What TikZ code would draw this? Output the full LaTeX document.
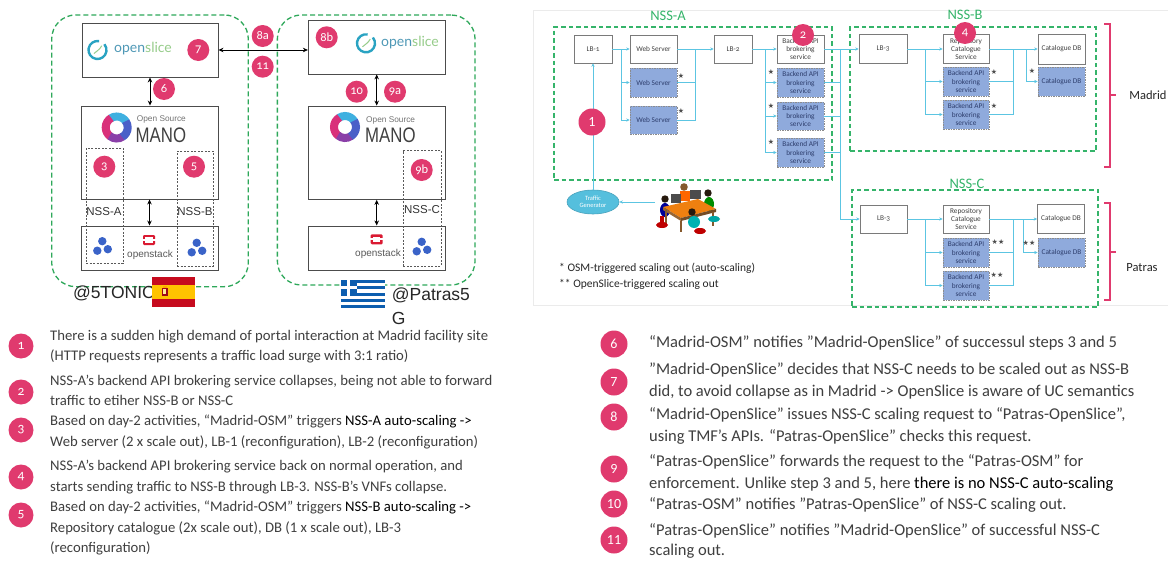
\documentclass[tikz,border=0pt]{standalone}
\usepackage{fontspec}
\setmainfont{Carlito}
\newfontfamily\oldnum{Carlito}[Numbers=OldStyle]
\newfontfamily\arialf{Liberation Sans}
\newfontfamily\symf{DejaVu Sans}
\newfontfamily\latof{Lato}
\usetikzlibrary{arrows.meta,shapes.geometric}

\definecolor{nssgreen}{HTML}{35B46A}
\definecolor{sitegreen}{HTML}{2EA85A}
\definecolor{linkc}{HTML}{5CC5E2}
\definecolor{vnf}{HTML}{8FAADC}
\definecolor{vnftext}{HTML}{2D3D6C}
\definecolor{badgec}{HTML}{E03A6E}
\definecolor{boxline}{HTML}{7A7A7A}
\definecolor{bodytext}{HTML}{3F3F3F}
\definecolor{osred}{HTML}{DA1A32}
\definecolor{dotblue}{HTML}{3A63C8}
\definecolor{slicering}{HTML}{2AA3C2}
\definecolor{slicetext}{HTML}{4E98B6}
\definecolor{slicegreen}{HTML}{96CC8A}
\definecolor{esred}{HTML}{C60B1E}
\definecolor{esyellow}{HTML}{FFC400}
\definecolor{grblue}{HTML}{0D5EAF}
\definecolor{tgfill}{HTML}{55BFDD}
\definecolor{osmcyan}{HTML}{3FB0E0}
\definecolor{osmmag}{HTML}{D9307A}
\definecolor{osmpur}{HTML}{8A3FA8}
\definecolor{osmblue}{HTML}{4A5FC8}

% Open Source MANO ring logo
\newcommand\drawosm[1]{\begin{scope}[shift={#1},yscale=-1]
  \draw[line width=8,osmcyan] (30:11) arc[start angle=30,end angle=125,radius=11];
  \draw[line width=8,osmmag] (120:11) arc[start angle=120,end angle=235,radius=11];
  \draw[line width=8,osmpur] (230:11) arc[start angle=230,end angle=305,radius=11];
  \draw[line width=8,osmblue] (300:11) arc[start angle=300,end angle=395,radius=11];
\end{scope}}
% OpenSlice ring logo
\newcommand\drawslice[1]{\begin{scope}[shift={#1},yscale=-1]
  \draw[line width=2.4,slicering] (80:9) arc[start angle=80,end angle=400,radius=9];
  \draw[line width=1,slicegreen] (-135:5) .. controls (-1,-1) and (2,0) .. (45:6);
\end{scope}}
% OpenStack logo
\newcommand\drawstack[1]{\begin{scope}[shift={#1}]
  \fill[osred,rounded corners=1.2] (-6,-5) rectangle (6,5);
  \fill[white] (-3.6,-2.8) rectangle (3.6,2.8);
  \fill[white] (-6.5,-1) rectangle (-3,1);
  \fill[white] (3,-1) rectangle (6.5,1);
\end{scope}}
% VNF cluster icon
\newcommand\drawdots[1]{\begin{scope}[shift={#1}]
  \fill[dotblue] (0,-5.5) circle[radius=4.2] (-5,4) circle[radius=4.2] (5.5,2.5) circle[radius=4.2];
\end{scope}}

\begin{document}
\begin{tikzpicture}[x=1pt,y=-1pt,
  site/.style={draw=sitegreen,line width=1.3,dash pattern=on 5pt off 3pt,rounded corners=24,inner sep=0},
  lbox/.style={draw=black!70,line width=0.9,fill=white,inner sep=0},
  nssdot/.style={draw=black!65,line width=0.7,dash pattern=on 2pt off 1.5pt,inner sep=0},
  nsslab/.style={font=\arialf\fontsize{11.5}{12}\selectfont,text=black!80,inner sep=0},
  biarr/.style={draw=black,line width=1,{Stealth[length=5pt,width=4.5pt]}-{Stealth[length=5pt,width=4.5pt]}},
  badge/.style={circle,fill=badgec,text=white,inner sep=0pt,minimum size=22,font=\oldnum\fontsize{12.5}{12.5}\selectfont},
  nssbox/.style={draw=nssgreen,line width=1.2,dash pattern=on 4.5pt off 3pt,inner sep=0},
  nsstitle/.style={text=nssgreen,font=\fontsize{14.5}{15}\selectfont,inner sep=0},
  wbox/.style={draw=boxline,line width=0.6,fill=white,minimum width=47,minimum height=29,inner sep=0,align=center,text=black!75,font=\oldnum\fontsize{7.3}{8.4}\selectfont},
  vbox/.style={wbox,fill=vnf,draw=black!45,dash pattern=on 1.5pt off 1pt,text=vnftext},
  lnk/.style={draw=linkc,line width=0.9},
  larr/.style={lnk,-{Stealth[length=3.5pt,width=3.2pt]}},
  scalestar/.style={font=\symf\fontsize{7}{7}\selectfont,text=black!70,inner sep=0},
  legend/.style={anchor=west,inner sep=0,text=black!85,font=\fontsize{11.5}{12}\selectfont},
  sitetag/.style={anchor=west,inner sep=0,text=black!85,font=\arialf\fontsize{17.5}{18}\selectfont},
  listbadge/.style={badge,minimum size=25,font=\oldnum\fontsize{13.5}{13.5}\selectfont},
  rbadge/.style={badge,minimum size=27,font=\fontsize{14}{14}\selectfont},
  ltxt/.style={anchor=west,inner sep=0pt,text=bodytext,font=\fontsize{14.7}{16}\selectfont,text height=10,text depth=3},
  rtxt/.style={ltxt,font=\fontsize{16.5}{18}\selectfont,text height=11,text depth=4},
  bracket/.style={draw=badgec,line width=1.3},
  tg/.style={ellipse,fill=tgfill,draw=tgfill!85!black,line width=0.6,minimum width=52,minimum height=24,inner sep=0,text=white,align=center,font=\fontsize{6.5}{7}\selectfont}
]
\useasboundingbox (0,0) rectangle (1168,562);
\fill[white] (0,0) rectangle (1168,562);

%% ---------------- Madrid site (left) ----------------
\node[site,minimum width=196.6,minimum height=271.7] (madrid) at (150,150.8) {};
\node[lbox,minimum width=136,minimum height=54] (os1) at (150,50) {};
\node[lbox,minimum width=137,minimum height=93] (mano1) at (149.5,152.5) {};
\node[lbox,minimum width=137,minimum height=44] (ost1) at (149.5,248) {};
\drawslice{(97.5,50)}
\node[anchor=west,inner sep=0,font=\latof\fontsize{14}{14}\selectfont] (slt1) at (114,49) {\textcolor{slicetext}{open}\textcolor{slicegreen}{slice}};
\drawosm{(116.7,127.5)}
\node[anchor=west,inner sep=0,text=black!55,font=\arialf\fontsize{8.3}{9}\selectfont] (oss1) at (136.7,119) {Open Source};
\node[anchor=west,inner sep=0,text=black!75,font=\arialf\fontsize{21}{21}\selectfont] (mn1) at (135.5,135) {\scalebox{0.8}[1]{MANO}};
\drawstack{(149,240)}
\node[inner sep=0,text=black!65,font=\arialf\fontsize{10}{10}\selectfont] (stk1) at (150,255) {openstack};
\drawdots{(102.3,246.7)}
\drawdots{(196.7,248.3)}
\node[nssdot,minimum width=37,minimum height=115] (nssa1) at (104.5,205.5) {};
\node[nssdot,minimum width=36,minimum height=115] (nssb1) at (195,208.5) {};
\node[nsslab] (lna) at (104,212) {NSS-A};
\node[nsslab] (lnb) at (195,212) {NSS-B};
\draw[biarr] (os1.south) -- (os1.south |- mano1.north);
\draw[biarr] (mano1.south) -- (mano1.south |- ost1.north);
\node[badge] (b7) at (198.3,50) {7};
\node[badge] (b6) at (164,89) {6};
\node[badge] (b3) at (104.3,166.7) {3};
\node[badge] (b5) at (194,166.7) {5};
\node[sitetag] (tonic) at (73,293) {@5TONIC};
% flag of Spain
\fill[esred] (151.7,277.3) rectangle (195.3,306.7);
\fill[esyellow] (151.7,284.6) rectangle (195.3,299.4);
\fill[esred!80!black] (161.5,287.5) rectangle (167.5,295.5);
\fill[esyellow!60!orange] (162.5,285.5) rectangle (166.5,287.5);
\fill[esyellow!40!white] (163,289) rectangle (166,294);

%% ---------------- Patras site ----------------
\node[site,minimum width=197.7,minimum height=270] (patras) at (376.2,150) {};
\node[lbox,minimum width=136.7,minimum height=53.3] (os2) at (376.7,47.3) {};
\node[lbox,minimum width=136.7,minimum height=93.3] (mano2) at (376.7,152.7) {};
\node[lbox,minimum width=136.7,minimum height=44.7] (ost2) at (376.7,248.3) {};
\drawslice{(366,43.3)}
\node[anchor=west,inner sep=0,font=\latof\fontsize{14}{14}\selectfont] (slt2) at (381,42.5) {\textcolor{slicetext}{open}\textcolor{slicegreen}{slice}};
\drawosm{(345,127)}
\node[anchor=west,inner sep=0,text=black!55,font=\arialf\fontsize{8.3}{9}\selectfont] (oss2) at (366,120) {Open Source};
\node[anchor=west,inner sep=0,text=black!75,font=\arialf\fontsize{21}{21}\selectfont] (mn2) at (365,135) {\scalebox{0.8}[1]{MANO}};
\drawstack{(376.7,239.3)}
\node[inner sep=0,text=black!65,font=\arialf\fontsize{10}{10}\selectfont] (stk2) at (378,254) {openstack};
\drawdots{(421.7,247.3)}
\node[nssdot,minimum width=37.7,minimum height=115.3] (nssc1) at (422.2,208.3) {};
\node[nsslab] (lnc) at (422,210) {NSS-C};
\draw[biarr] (os2.south) -- (os2.south |- mano2.north);
\draw[biarr] (mano2.south) -- (mano2.south |- ost2.north);
\draw[biarr] (os1.east) -- (os1.east -| os2.west);
\node[badge] (b8a) at (262.7,36) {8a};
\node[badge] (b11) at (262.7,66.7) {11};
\node[badge] (b8b) at (326.7,37.3) {8b};
\node[badge] (b10) at (356.7,91.7) {10};
\node[badge] (b9a) at (395,91.7) {9a};
\node[badge] (b9b) at (421.7,170) {9b};
% flag of Greece
\foreach \i in {0,...,8}{
  \pgfmathsetmacro\sy{280+\i*28.3/9}
  \ifodd\i \fill[white] (341,\sy) rectangle (385,\sy+3.15); \else \fill[grblue] (341,\sy) rectangle (385,\sy+3.15); \fi
}
\fill[grblue] (341,280) rectangle (356.7,295.7);
\fill[white] (341,286.3) rectangle (356.7,289.4);
\fill[white] (347.3,280) rectangle (350.4,295.7);
\node[sitetag] (ptag) at (391.7,295.5) {@Patras5};
\node[sitetag] (ptagg) at (391.7,318) {G};

%% ---------------- Slice topology (right) ----------------
\draw[black!8,line width=0.8] (533,10) -- (1168,10) (533,10) -- (533,305) -- (1168,305);
\node[nssbox,minimum width=278,minimum height=153] (nssA) at (693,103.5) {};
\node[nssbox,minimum width=246,minimum height=124] (nssB) at (973,89) {};
\node[nssbox,minimum width=246,minimum height=117] (nssC) at (975,248.5) {};
\node[nsstitle] (tA) at (668,16) {NSS-A};
\node[nsstitle] (tB) at (965,15) {NSS-B};
\node[nsstitle] (tC) at (967,184) {NSS-C};

% NSS-A functions
\node[wbox,minimum width=38,minimum height=28] (lb1) at (593,49) {LB-1};
\node[wbox,minimum height=28] (ws1) at (653.5,49) {Web Server};
\node[vbox] (wsb1) at (653.5,82.5) {Web Server};
\node[vbox,minimum height=28] (wsb2) at (653.5,120) {Web Server};
\node[wbox,minimum width=38,minimum height=28] (lb2) at (733,49) {LB-2};
\node[wbox,minimum height=28] (be1) at (800.5,49) {Backend API\\brokering\\service};
\node[vbox] (beb1) at (800.5,82.5) {Backend API\\brokering\\service};
\node[vbox,minimum height=28] (beb2) at (800.5,116) {Backend API\\brokering\\service};
\node[vbox] (beb3) at (800.5,152.5) {Backend API\\brokering\\service};

% NSS-B functions
\node[wbox,minimum width=48] (lb3b) at (883,49) {LB-3};
\node[wbox,minimum width=46] (rcb) at (966,49) {Repository\\Catalogue\\Service};
\node[vbox,minimum width=46] (bkb1) at (966,81.5) {Backend API\\brokering\\service};
\node[vbox,minimum width=46] (bkb2) at (966,114.5) {Backend API\\brokering\\service};
\node[wbox,minimum height=30] (cdb1) at (1061.5,49) {Catalogue DB};
\node[vbox] (cdb2) at (1061.5,81.5) {Catalogue DB};

% NSS-C functions
\node[wbox,minimum height=28] (lb3c) at (883.5,219) {LB-3};
\node[wbox,minimum width=46,minimum height=28] (rcc) at (966,219) {Repository\\Catalogue\\Service};
\node[vbox,minimum width=46] (bkc1) at (966,252.5) {Backend API\\brokering\\service};
\node[vbox,minimum width=46] (bkc2) at (966,285.5) {Backend API\\brokering\\service};
\node[wbox] (cdc1) at (1061,219) {Catalogue DB};
\node[vbox] (cdc2) at (1061.5,252.5) {Catalogue DB};

% bus positions
\coordinate (xa1) at (621,0);
\coordinate (xa2) at (695,0);
\coordinate (xa3) at (765,0);
\coordinate (xa4) at (840,0);
\coordinate (xb1) at (925,0);
\coordinate (xb2) at (1013,0);
\coordinate (xb3) at (1026,0);
\coordinate (xc3) at (1023,0);

% NSS-A links
\draw[larr] (lb1.east) -- (ws1.west);
\draw[lnk] (xa1 |- lb1.east) -- (xa1 |- wsb2.west);
\draw[larr] (xa1 |- wsb1.west) -- (wsb1.west);
\draw[larr] (xa1 |- wsb2.west) -- (wsb2.west);
\draw[larr] (ws1.east) -- (lb2.west);
\draw[lnk] (wsb1.east) -- (xa2 |- wsb1.east);
\draw[lnk] (wsb2.east) -- (xa2 |- wsb2.east) -- (xa2 |- ws1.east);
\draw[larr] (lb2.east) -- (be1.west);
\draw[lnk] (xa3 |- lb2.east) -- (xa3 |- beb3.west);
\draw[larr] (xa3 |- beb1.west) -- (beb1.west);
\draw[larr] (xa3 |- beb2.west) -- (beb2.west);
\draw[larr] (xa3 |- beb3.west) -- (beb3.west);
\draw[lnk] (beb1.east) -- (xa4 |- beb1.east);
\draw[lnk] (beb2.east) -- (xa4 |- beb2.east);
\draw[lnk] (beb3.east) -- (xa4 |- beb3.east);
\draw[larr] (be1.east) -- (lb3b.west);
\draw[lnk] (xa4 |- be1.east) -- (xa4 |- lb3c.west);
\draw[larr] (xa4 |- lb3c.west) -- (lb3c.west);

% NSS-B links
\draw[larr] (lb3b.east) -- (rcb.west);
\draw[lnk] (xb1 |- lb3b.east) -- (xb1 |- bkb2.west);
\draw[larr] (xb1 |- bkb1.west) -- (bkb1.west);
\draw[larr] (xb1 |- bkb2.west) -- (bkb2.west);
\draw[larr] (rcb.east) -- (cdb1.west);
\draw[lnk] (bkb1.east) -- (xb2 |- bkb1.east);
\draw[lnk] (bkb2.east) -- (xb2 |- bkb2.east) -- (xb2 |- rcb.east);
\draw[lnk] (xb3 |- rcb.east) -- (xb3 |- cdb2.west);
\draw[larr] (xb3 |- cdb2.west) -- (cdb2.west);

% NSS-C links
\draw[larr] (lb3c.east) -- (rcc.west);
\draw[lnk] (xb1 |- lb3c.east) -- (xb1 |- bkc2.west);
\draw[larr] (xb1 |- bkc1.west) -- (bkc1.west);
\draw[larr] (xb1 |- bkc2.west) -- (bkc2.west);
\draw[larr] (rcc.east) -- (cdc1.west);
\draw[lnk] (bkc1.east) -- (xb2 |- bkc1.east);
\draw[lnk] (bkc2.east) -- (xb2 |- bkc2.east) -- (xb2 |- rcc.east);
\draw[lnk] (xc3 |- rcc.east) -- (xc3 |- cdc2.west);
\draw[larr] (xc3 |- cdc2.west) -- (cdc2.west);

% scaled-out markers
\node[scalestar] (s1) at (681,76) {★};
\node[scalestar] (s2) at (681,111) {★};
\node[scalestar] (s3) at (771,72) {★};
\node[scalestar] (s4) at (771,106) {★};
\node[scalestar] (s5) at (771,142) {★};
\node[scalestar] (s6) at (994,72) {★};
\node[scalestar] (s7) at (994,106) {★};
\node[scalestar] (s8) at (1032,71) {★};
\node[scalestar] (s9) at (998,242) {★★};
\node[scalestar] (s10) at (997,275) {★★};
\node[scalestar] (s11) at (1029,243) {★★};

% traffic source
\node[tg] (tgen) at (593,202) {Traffic\\Generator};
\draw[larr] (tgen.north) -- (lb1.south);
\node[rbadge] (r1) at (592,122) {1};
\node[badge] (r2) at (803,35) {2};
\node[badge] (r4) at (965,33) {4};

% users at a desk
\fill[brown!70!black] (684,187) circle[radius=3.8];
\fill[orange!80!red] (680,191) rectangle (690,201);
\fill[black!70] (671,194) rectangle (681,203);
\fill[black!70] (690,190) rectangle (701,199);
\fill[blue!60!black] (665,210) ellipse[x radius=5,y radius=7];
\fill[black!80!brown] (665,199) circle[radius=3.7];
\fill[green!55!black] (709,204) ellipse[x radius=5,y radius=7];
\fill[black!80!brown] (708,193) circle[radius=3.7];
\fill[orange!75!brown] (663,207) -- (698,199) -- (716,209) -- (681,218) -- cycle;
\fill[brown!80!black] (663,207) -- (681,218) -- (681,221) -- (663,210) -- cycle;
\fill[brown!60!black] (681,218) -- (716,209) -- (716,212) -- (681,221) -- cycle;
\draw[brown!70!black,line width=1.2] (666,210) -- (666,226) (713,212) -- (713,226) (681,221) -- (681,232);
\fill[red!75!black] (662,225) ellipse[x radius=6,y radius=3];
\fill[red!75!black] (660,216) rectangle (664,225);
\fill[teal!70!cyan] (714,219) ellipse[x radius=6,y radius=3];
\fill[teal!60!cyan] (694,222) ellipse[x radius=6,y radius=6];
\fill[black!80!brown] (692,212) circle[radius=3.7];
\fill[red!75!black] (700,231) ellipse[x radius=6,y radius=3];
\coordinate (crowd) at (655,202);
\draw[larr] (crowd) -- (tgen.east);

% legend
\node[legend] (lg1) at (559,268) {* OSM-triggered scaling out (auto-scaling)};
\node[legend] (lg2) at (559,284) {** OpenSlice-triggered scaling out};

% site brackets
\draw[bracket] (1104,24) -- (1110,24) -- (1110,167) -- (1104,167) (1110,95) -- (1116,95);
\draw[bracket] (1104,203) -- (1110,203) -- (1110,300) -- (1104,300) (1110,252) -- (1116,252);
\node[inner sep=0,font=\fontsize{12.5}{13}\selectfont,text=black!85] (mad) at (1148,95) {Madrid};
\node[inner sep=0,font=\fontsize{12.5}{13}\selectfont,text=black!85] (pat) at (1142,268) {Patras};

%% ---------------- Step descriptions ----------------
\node[listbadge] (n1) at (21,346) {1};
\node[ltxt] (t1a) at (50,337) {There is a sudden high demand of portal interaction at Madrid facility site};
\node[ltxt] (t1b) at (50,357) {(HTTP requests represents a traffic load surge with 3:1 ratio)};
\node[listbadge] (n2) at (21,392) {2};
\node[ltxt] (t2a) at (50,382) {NSS-A’s backend API brokering service collapses, being not able to forward};
\node[ltxt] (t2b) at (50,402) {traffic to etiher NSS-B or NSS-C};
\node[listbadge] (n3) at (21,430) {3};
\node[ltxt] (t3a) at (50,422) {Based on day-2 activities, “Madrid-OSM” triggers \textcolor{black}{NSS-A auto-scaling ->}};
\node[ltxt] (t3b) at (50,443) {Web server (2 x scale out), LB-1 (reconfiguration), LB-2 (reconfiguration)};
\node[listbadge] (n4) at (21,477) {4};
\node[ltxt] (t4a) at (50,467) {NSS-A’s backend API brokering service back on normal operation, and};
\node[ltxt] (t4b) at (50,488) {starts sending traffic to NSS-B through LB-3. NSS-B’s VNFs collapse.};
\node[listbadge] (n5) at (21,515) {5};
\node[ltxt] (t5a) at (50,508) {Based on day-2 activities, “Madrid-OSM” triggers \textcolor{black}{NSS-B auto-scaling ->}};
\node[ltxt] (t5b) at (50,529) {Repository catalogue (2x scale out), DB (1 x scale out), LB-3};
\node[ltxt] (t5c) at (50,549) {(reconfiguration)};

\node[rbadge] (n6) at (614,344) {6};
\node[rtxt] (t6a) at (649,344) {“Madrid-OSM” notifies ”Madrid-OpenSlice” of successul steps 3 and 5};
\node[rbadge] (n7) at (614,382) {7};
\node[rtxt] (t7a) at (649,371) {”Madrid-OpenSlice” decides that NSS-C needs to be scaled out as NSS-B};
\node[rtxt] (t7b) at (649,393) {did, to avoid collapse as in Madrid -> OpenSlice is aware of UC semantics};
\node[rbadge] (n8) at (614,417) {8};
\node[rtxt] (t8a) at (649,416) {“Madrid-OpenSlice” issues NSS-C scaling request to “Patras-OpenSlice”,};
\node[rtxt] (t8b) at (649,438) {using TMF’s APIs. “Patras-OpenSlice” checks this request.};
\node[rbadge] (n9) at (614,469) {9};
\node[rtxt] (t9a) at (649,463) {“Patras-OpenSlice” forwards the request to the “Patras-OSM” for};
\node[rtxt] (t9b) at (649,485) {enforcement. Unlike step 3 and 5, here \textcolor{black}{there is no NSS-C auto-scaling}};
\node[rbadge] (n10) at (614,504) {10};
\node[rtxt] (t10a) at (649,506) {“Patras-OSM” notifies ”Patras-OpenSlice” of NSS-C scaling out.};
\node[rbadge] (n11) at (614,540) {11};
\node[rtxt] (t11a) at (649,532) {“Patras-OpenSlice” notifies ”Madrid-OpenSlice” of successful NSS-C};
\node[rtxt] (t11b) at (649,552) {scaling out.};
\end{tikzpicture}
\end{document}
